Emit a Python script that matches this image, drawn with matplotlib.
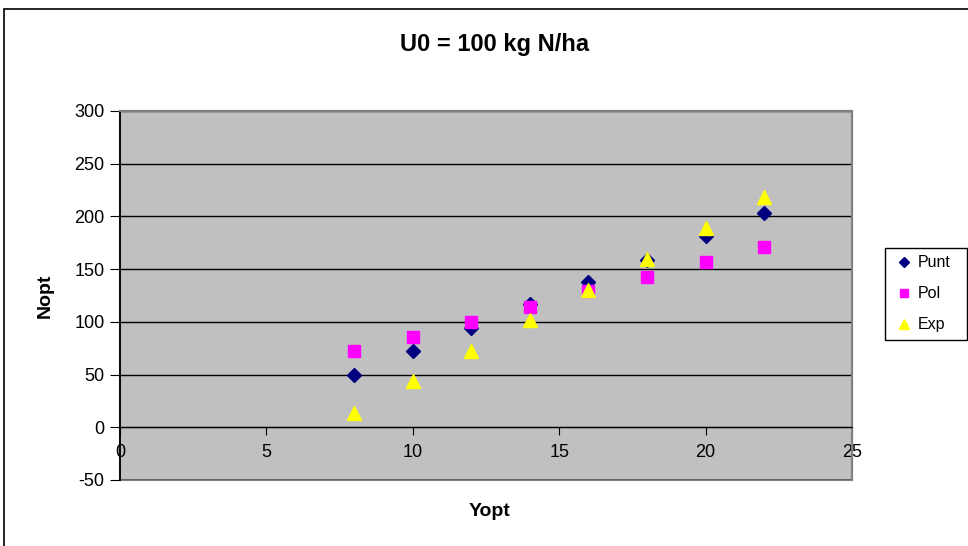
import numpy as np
import matplotlib
matplotlib.use("Agg")
import matplotlib.pyplot as plt
from matplotlib.patches import Rectangle

plt.rcParams['font.family'] = ['Liberation Sans', 'DejaVu Sans']
plt.rcParams['axes.unicode_minus'] = False

# data
yopt = [8, 10, 12, 14, 16, 18, 20, 22]
punt = [50, 72, 94, 117, 138, 159, 181, 203]
pol = [72, 86, 100, 114, 129, 143, 157, 171]
expo = [14, 44, 72, 102, 130, 160, 189, 218]

W, H = 968, 546
fig = plt.figure(figsize=(W/100, H/100), dpi=100)
ax = fig.add_axes([120/W, 1-480/H, (852-120)/W, (480-111)/H])
ax.set_facecolor("#C0C0C0")

# outer chart border
fig.patches.append(Rectangle((4/W, -0.05), 1.2, 1-9/H+0.05, transform=fig.transFigure,
                             fill=False, edgecolor="black", lw=1.2))

ax.plot(yopt, punt, linestyle="none", marker="D", ms=7, color="#000080", label="Punt", zorder=3)
ax.plot(yopt, pol, linestyle="none", marker="s", ms=9, color="#FF00FF", label="Pol", zorder=3)
ax.plot(yopt, expo, linestyle="none", marker="^", ms=10, color="#FFFF00", label="Exp", zorder=3)

ax.set_xlim(0, 25)
ax.set_ylim(-50, 300)
ax.set_xticks(np.arange(0, 26, 5))
ax.set_yticks(np.arange(-50, 301, 50))
ax.yaxis.grid(True, color="black", lw=1.0)
ax.set_axisbelow(True)

ax.spines['bottom'].set_position(('data', 0))
ax.spines['bottom'].set_color("black")
ax.spines['left'].set_color("black")
ax.spines['left'].set_linewidth(1.3)
for s in ['top', 'right']:
    ax.spines[s].set_color("#808080")
    ax.spines[s].set_linewidth(1.5)
ax.add_patch(Rectangle((0, 0), 1, 1, transform=ax.transAxes, fill=False,
                       edgecolor="#808080", lw=1.5, zorder=0.5, clip_on=False))

ax.tick_params(axis='x', direction='out', length=6, pad=6, labelsize=13, color="black")
ax.tick_params(axis='y', direction='out', length=7, pad=4, labelsize=13, color="black")

fig.text(495/W, 1-45/H, "U0 = 100 kg N/ha", fontsize=17, fontweight="bold",
         ha="center", va="center")
ax.set_xlabel("Yopt", fontsize=14, fontweight="bold")
ax.set_ylabel("Nopt", fontsize=14, fontweight="bold")
ax.xaxis.set_label_coords((490-120)/(852-120), -(503-480)/(480-111))
ax.yaxis.set_label_coords(-(120-54)/(852-120), 0.5)

# legend box drawn by hand, entries from a frameless legend
fig.patches.append(Rectangle((885/W, 1-340/H), (967-885)/W, (340-248)/H,
                             transform=fig.transFigure, fill=False,
                             edgecolor="black", lw=1.0))
leg = fig.legend(loc="upper left", bbox_to_anchor=(885/W, 1-248/H), fontsize=11.5,
                 frameon=False, markerscale=0.7, handlelength=1.5, handletextpad=0.1,
                 labelspacing=1.0, borderpad=0.45, borderaxespad=0)

fig.savefig("out.png", dpi=100)
